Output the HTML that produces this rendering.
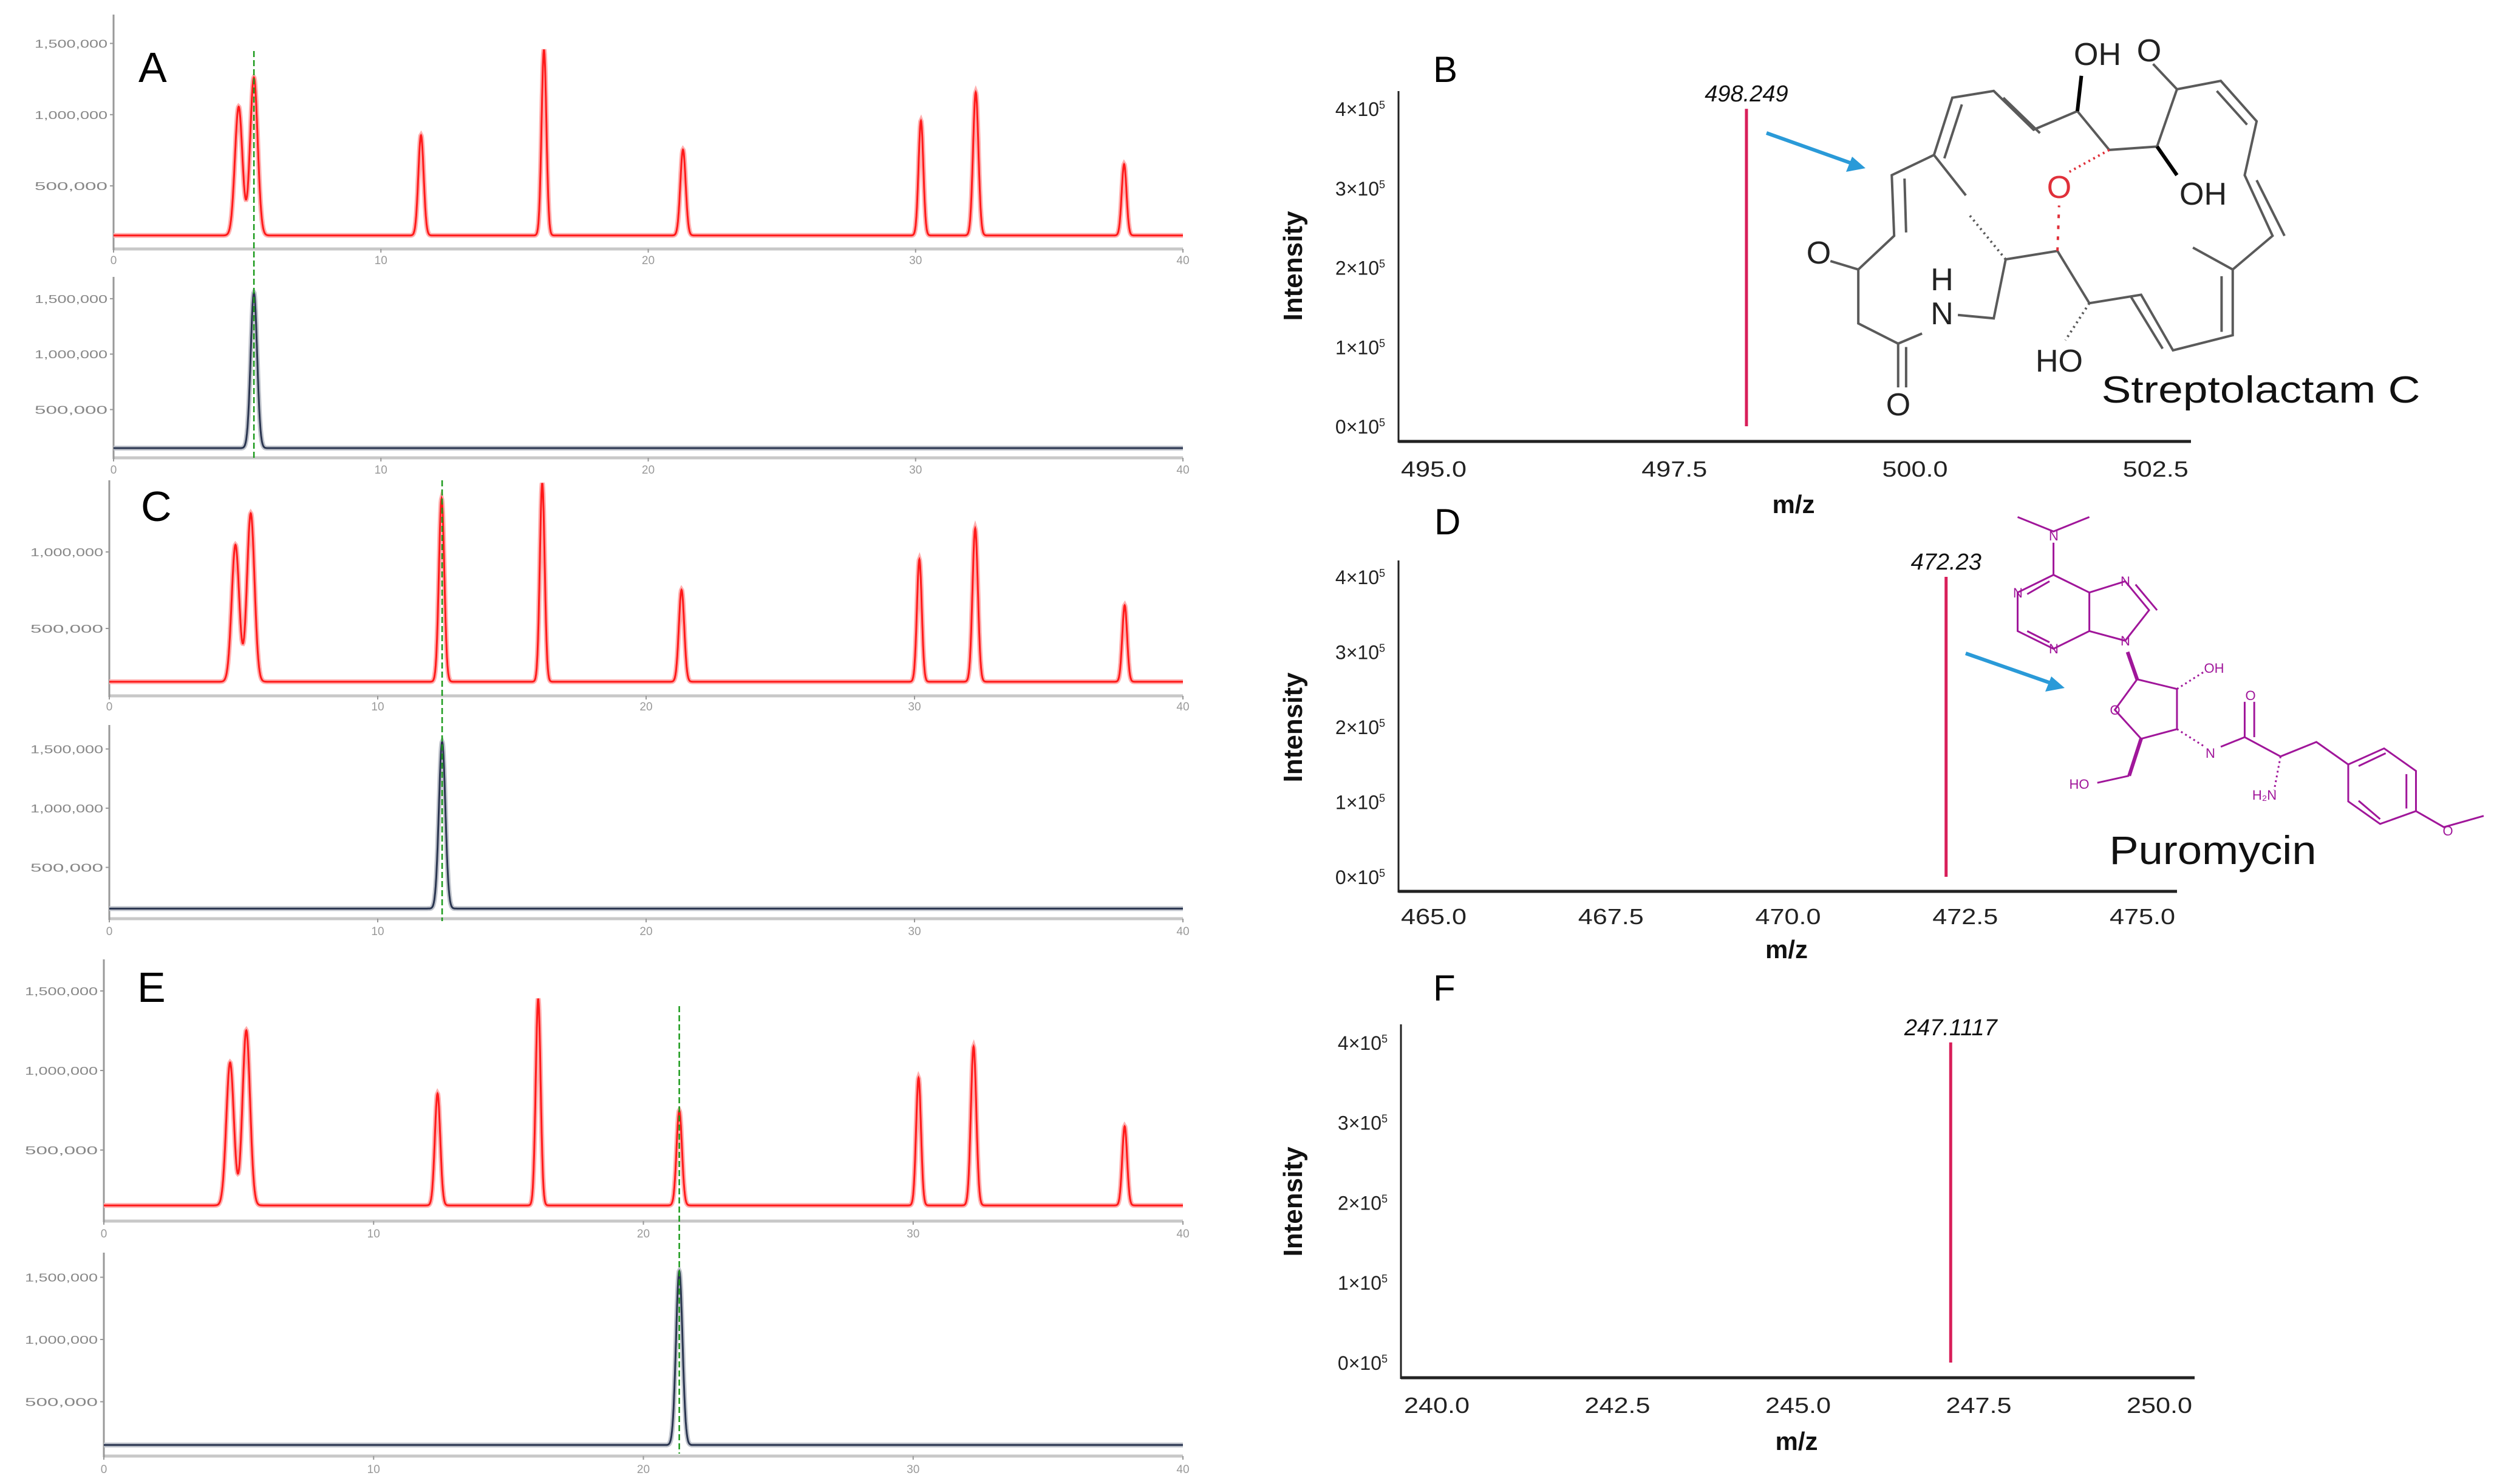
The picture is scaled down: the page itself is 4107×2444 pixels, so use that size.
<!DOCTYPE html>
<html><head><meta charset="utf-8">
<style>
html,body{margin:0;padding:0;background:#fff;}
svg{display:block;}
text{font-family:"Liberation Sans",sans-serif;}
</style></head>
<body>
<svg id="fig" width="4107" height="2444" viewBox="0 0 4107 2444" xmlns="http://www.w3.org/2000/svg">
<rect width="4107" height="2444" fill="#fff"/>
<g id="chroms"></g>
<g id="spectra"></g>

<text x="228" y="135" font-size="70" fill="#000">A</text>
<text x="232" y="858" font-size="70" fill="#000">C</text>
<text x="226" y="1650" font-size="70" fill="#000">E</text>
<text x="2360" y="135" font-size="60" fill="#000">B</text>
<text x="2362" y="880" font-size="60" fill="#000">D</text>
<text x="2360" y="1648" font-size="60" fill="#000">F</text>

<!-- Streptolactam C structure -->
<g>
<g transform="translate(2050,0) scale(1.3119,0.5548)" fill="none" stroke="#5a5a5a" stroke-width="4">
<polyline vector-effect="non-scaling-stroke" points="770,800 815,700 812,520 865,460 888,290 940,270 990,385 1045,330 1085,445 1145,435 1170,265 1225,240 1270,360 1255,520 1290,700 1240,800 1240,995 1165,1040 1125,875 1060,900 1020,745 955,770 940,945 895,935"/>
<polyline vector-effect="non-scaling-stroke" points="850,990 820,1020 770,960 770,800"/>
<line vector-effect="non-scaling-stroke" x1="770" y1="800" x2="735" y2="775"/>
<line vector-effect="non-scaling-stroke" x1="820" y1="1020" x2="820" y2="1150"/>
<line vector-effect="non-scaling-stroke" x1="830" y1="1030" x2="830" y2="1150"/>
<line vector-effect="non-scaling-stroke" x1="865" y1="460" x2="905" y2="580"/>
<line vector-effect="non-scaling-stroke" x1="1170" y1="265" x2="1140" y2="190"/>
<line vector-effect="non-scaling-stroke" x1="1240" y1="800" x2="1190" y2="735"/>
<line vector-effect="non-scaling-stroke" x1="828" y1="530" x2="830" y2="690"/>
<line vector-effect="non-scaling-stroke" x1="952" y1="290" x2="998" y2="395"/>
<line vector-effect="non-scaling-stroke" x1="1220" y1="270" x2="1258" y2="370"/>
<line vector-effect="non-scaling-stroke" x1="1270" y1="535" x2="1305" y2="700"/>
<line vector-effect="non-scaling-stroke" x1="1226" y1="820" x2="1226" y2="985"/>
<line vector-effect="non-scaling-stroke" x1="1112" y1="880" x2="1152" y2="1035"/>
<line vector-effect="non-scaling-stroke" x1="900" y1="310" x2="878" y2="470"/>
<line vector-effect="non-scaling-stroke" stroke-dasharray="3 6" x1="955" y1="770" x2="910" y2="640"/>
<line vector-effect="non-scaling-stroke" stroke-dasharray="3 6" x1="1060" y1="900" x2="1030" y2="1010"/>
<line vector-effect="non-scaling-stroke" stroke="#e0303a" stroke-dasharray="3 6" x1="1085" y1="445" x2="1035" y2="510"/>
<line vector-effect="non-scaling-stroke" stroke="#e0303a" stroke-dasharray="6 12" x1="1020" y1="745" x2="1022" y2="610"/>
<line vector-effect="non-scaling-stroke" stroke="#000" stroke-width="6" x1="1045" y1="330" x2="1050" y2="225"/>
<line vector-effect="non-scaling-stroke" stroke="#000" stroke-width="6" x1="1145" y1="435" x2="1170" y2="520"/>
</g>
<g font-size="52" fill="#222" text-anchor="middle">
<text x="3454" y="107">OH</text>
<text x="3539" y="101">O</text>
<text x="3628" y="337">OH</text>
<text x="3391" y="326" fill="#e0303a">O</text>
<text x="2995" y="434">O</text>
<text x="3198" y="478">H</text>
<text x="3198" y="534">N</text>
<text x="3391" y="612">HO</text>
<text x="3126" y="684">O</text>
</g>
<text x="3723" y="663" font-size="62" text-anchor="middle" textLength="525" lengthAdjust="spacingAndGlyphs" fill="#111">Streptolactam C</text>
</g>
<g stroke="#2a9ad8" stroke-width="6" fill="#2a9ad8">
<line x1="2909" y1="219" x2="3052" y2="270"/>
<polygon points="3072,277 3040,283 3050,258" stroke="none"/>
</g>

<!-- Puromycin structure -->
<g>
<g transform="translate(2050,780) scale(1.3119,0.5293)" fill="none" stroke="#a0169a" stroke-width="3">
<polyline vector-effect="non-scaling-stroke" points="970,135 1015,180 1060,135"/>
<line vector-effect="non-scaling-stroke" x1="1015" y1="215" x2="1015" y2="315"/>
<polygon vector-effect="non-scaling-stroke" points="1015,315 970,370 970,490 1015,545 1060,490 1060,370"/>
<polyline vector-effect="non-scaling-stroke" points="1060,370 1105,335 1135,425 1105,520 1060,490"/>
<line vector-effect="non-scaling-stroke" x1="982" y1="375" x2="1010" y2="335"/>
<line vector-effect="non-scaling-stroke" x1="982" y1="490" x2="1010" y2="525"/>
<line vector-effect="non-scaling-stroke" x1="1118" y1="345" x2="1145" y2="425"/>
<polygon vector-effect="non-scaling-stroke" points="1120,640 1170,670 1170,795 1125,825 1092,735"/>
<line vector-effect="non-scaling-stroke" stroke-width="6" x1="1108" y1="555" x2="1120" y2="640"/>
<line vector-effect="non-scaling-stroke" stroke-dasharray="3 5" x1="1170" y1="670" x2="1205" y2="615"/>
<line vector-effect="non-scaling-stroke" stroke-width="6" x1="1125" y1="825" x2="1110" y2="940"/>
<line vector-effect="non-scaling-stroke" x1="1110" y1="940" x2="1070" y2="962"/>
<line vector-effect="non-scaling-stroke" stroke-dasharray="3 5" x1="1170" y1="795" x2="1205" y2="850"/>
<polyline vector-effect="non-scaling-stroke" points="1225,850 1255,820 1300,880 1345,835 1385,905"/>
<line vector-effect="non-scaling-stroke" x1="1255" y1="820" x2="1255" y2="710"/>
<line vector-effect="non-scaling-stroke" x1="1267" y1="820" x2="1267" y2="710"/>
<line vector-effect="non-scaling-stroke" stroke-dasharray="3 5" x1="1300" y1="880" x2="1292" y2="985"/>
<polygon vector-effect="non-scaling-stroke" points="1385,905 1430,855 1470,925 1470,1050 1425,1090 1385,1020"/>
<line vector-effect="non-scaling-stroke" x1="1398" y1="910" x2="1432" y2="870"/>
<line vector-effect="non-scaling-stroke" x1="1458" y1="935" x2="1458" y2="1042"/>
<line vector-effect="non-scaling-stroke" x1="1398" y1="1018" x2="1425" y2="1075"/>
<polyline vector-effect="non-scaling-stroke" points="1470,1050 1505,1100 1555,1065"/>
</g>
<g font-size="22" fill="#a0169a" text-anchor="middle">
<text x="3382" y="890">N</text>
<text x="3323" y="984">N</text>
<text x="3382" y="1076">N</text>
<text x="3500" y="965">N</text>
<text x="3500" y="1063">N</text>
<text x="3646" y="1108">OH</text>
<text x="3483" y="1177">O</text>
<text x="3424" y="1299">HO</text>
<text x="3640" y="1248">N</text>
<text x="3706" y="1153">O</text>
<text x="3729" y="1317">H₂N</text>
<text x="4031" y="1376">O</text>
</g>
<text x="3644" y="1423" font-size="66" text-anchor="middle" textLength="341" lengthAdjust="spacingAndGlyphs" fill="#111">Puromycin</text>
</g>
<g stroke="#2a9ad8" stroke-width="6" fill="#2a9ad8">
<line x1="3237" y1="1076" x2="3380" y2="1126"/>
<polygon points="3400,1133 3368,1139 3378,1114" stroke="none"/>
</g>
</svg>

<script>
// ---------- Chromatogram data ----------
const peakTimesA = [4.68, 5.25, 11.5, 16.1, 21.3, 30.2, 32.25, 37.8];
const peakHeightsA = [1055000, 1261000, 855000, 1457000, 754000, 957000, 1157000, 652000];
const peakTimesC = [4.70, 5.27, 12.38, 16.13, 21.32, 30.18, 32.26, 37.83];
const peakHeightsC = [1046000, 1252000, 1349000, 1450000, 752000, 951000, 1153000, 651000];
const peakTimesE = [4.68, 5.28, 12.37, 16.1, 21.33, 30.2, 32.24, 37.84];
const peakHeightsE = [1050000, 1252000, 855000, 1452000, 748000, 954000, 1150000, 649000];
const peakWidths = [0.14, 0.14, 0.1, 0.09, 0.1, 0.09, 0.1, 0.09];
const baselineTIC = 152000;
const eicTimes = [5.25, 12.4, 21.33];
const eicHeights = [1555000, 1560000, 1550000];
const baselineEIC = 152000;
const eicWidth = 0.12;
const xTicksChrom = [0, 10, 20, 30, 40];
const yTicksChrom = [500000, 1000000, 1500000];
const yTickLabelsChrom = ["500,000", "1,000,000", "1,500,000"];

// ---------- Mass spectra data ----------
const specMz = [498.249, 472.23, 247.1117];
const specIntensity = [400000, 400000, 400000];
const specLabels = ["498.249", "472.23", "247.1117"];
const mzTicksB = [495.0, 497.5, 500.0, 502.5];
const mzTicksD = [465.0, 467.5, 470.0, 472.5, 475.0];
const mzTicksF = [240.0, 242.5, 245.0, 247.5, 250.0];
const intTicks = [0, 1, 2, 3, 4];

const NS = "http://www.w3.org/2000/svg";
function mk(tag, attrs, parent) {
  const e = document.createElementNS(NS, tag);
  for (const k in attrs) e.setAttribute(k, attrs[k]);
  parent.appendChild(e);
  return e;
}

const chromG = document.getElementById('chroms');
const chromPanels = [
  {id:'a-tic', x0:187, x1:1948, yZero:423.4, per:117.3, top:24, axisY:410, lblY:435, kind:'tic', times:peakTimesA, heights:peakHeightsA},
  {id:'a-eic', x0:187, x1:1948, yZero:765.8, per:91.3, top:456, axisY:754, lblY:780, kind:'eic', idx:0},
  {id:'c-tic', x0:180, x1:1948, yZero:1161, per:126, top:791, axisY:1146, lblY:1170, kind:'tic', times:peakTimesC, heights:peakHeightsC},
  {id:'c-eic', x0:180, x1:1948, yZero:1526, per:97.5, top:1194, axisY:1513, lblY:1540, kind:'eic', idx:1},
  {id:'e-tic', x0:171, x1:1948, yZero:2025, per:131, top:1580, axisY:2011, lblY:2038, kind:'tic', times:peakTimesE, heights:peakHeightsE},
  {id:'e-eic', x0:171, x1:1948, yZero:2411, per:102.5, top:2063, axisY:2398, lblY:2426, kind:'eic', idx:2}
];
const greenLines = [{x0:187,x1:1948,t:eicTimes[0],y0:84,y1:755},{x0:180,x1:1948,t:eicTimes[1],y0:791,y1:1517},{x0:171,x1:1948,t:eicTimes[2],y0:1657,y1:2394}];

chromPanels.forEach(p => {
  const g = mk('g', {}, chromG);
  
  
  const sx = t => p.x0 + (t / 40) * (p.x1 - p.x0);
  const sy = v => p.yZero - v / 500000 * p.per;
  const xa = mk('line', {x1:p.x0, y1:p.axisY, x2:p.x1, y2:p.axisY, stroke:'#c8c8c8', 'stroke-width':5}, g);
  
  
  const ya = mk('line', {x1:p.x0, y1:p.top, x2:p.x0, y2:p.axisY+2, stroke:'#999', 'stroke-width':3}, g);
  
  
  xTicksChrom.forEach(t => {
    mk('line', {x1:sx(t), y1:p.axisY, x2:sx(t), y2:p.axisY+6, stroke:'#999', 'stroke-width':2}, g);
    const tx = mk('text', {x:sx(t), y:p.lblY, 'font-size':19, fill:'#999', 'text-anchor':'middle'}, g);
    tx.textContent = String(t);
    
    
  });
  yTicksChrom.forEach((v, i) => {
    const y = sy(v);
    if (y < p.top + 5) return;
    mk('line', {x1:p.x0-6, y1:y, x2:p.x0, y2:y, stroke:'#999', 'stroke-width':2}, g);
    const tx = mk('text', {x:p.x0-130, y:y+7, 'font-size':18, fill:'#888', textLength:120, lengthAdjust:'spacingAndGlyphs'}, g);
    tx.textContent = yTickLabelsChrom[i];
    
    
  });
  let f;
  let color;
  if (p.kind === 'tic') {
    color = '#ff1a1a';
    f = t => {
      let v = baselineTIC;
      for (let i = 0; i < p.times.length; i++) {
        const s = peakWidths[i];
        v += (p.heights[i] - baselineTIC) * Math.exp(-Math.pow(t - p.times[i], 2) / (2 * s * s));
      }
      return v;
    };
  } else {
    color = '#2a3550';
    f = t => baselineEIC + (eicHeights[p.idx] - baselineEIC) * Math.exp(-Math.pow(t - eicTimes[p.idx], 2) / (2 * eicWidth * eicWidth));
  }
  let d = '';
  for (let t = 0; t <= 40.0001; t += 0.01) {
    d += (d ? 'L' : 'M') + sx(t).toFixed(1) + ',' + sy(f(t)).toFixed(1);
  }
  const halo = mk('path', {d:d, fill:'none', stroke: p.kind==='tic' ? '#ffb0b0' : '#c0c4cc', 'stroke-width':8}, g);
  
  
  const tr = mk('path', {d:d, fill:'none', stroke:color, 'stroke-width':3}, g);
  
  
});
greenLines.forEach(l => {
  const x = l.x0 + l.t / 40 * (l.x1 - l.x0);
  const gl = mk('line', {x1:x, y1:l.y0, x2:x, y2:l.y1, stroke:'#1a9a1a', 'stroke-width':2.5, 'stroke-dasharray':'10 5'}, chromG);
  
  
});

// ---------- Spectra ----------
const specG = document.getElementById('spectra');
const specPanels = [
  {id:'b', axX:2303, right:3608, top:150, axisY:727, yZero:702, per:130.7, mz0:495, mzPx:2361, ppu:158.5, ticks:mzTicksB, lblY:785, mzY:845, intY:438},
  {id:'d', axX:2303, right:3585, top:923, axisY:1468, yZero:1444, per:123.5, mz0:465, mzPx:2361, ppu:116.7, ticks:mzTicksD, lblY:1522, mzY:1578, intY:1198},
  {id:'f', axX:2307, right:3614, top:1687, axisY:2269, yZero:2244, per:131.8, mz0:240, mzPx:2366, ppu:119, ticks:mzTicksF, lblY:2327, mzY:2388, intY:1979}
];
specPanels.forEach((p, k) => {
  const g = mk('g', {}, specG);
  
  
  const sx = m => p.mzPx + (m - p.mz0) * p.ppu;
  const sy = v => p.yZero - v / 100000 * p.per;
  const xa = mk('line', {x1:p.axX, y1:p.axisY, x2:p.right, y2:p.axisY, stroke:'#222', 'stroke-width':5}, g);
  
  
  const ya = mk('line', {x1:p.axX, y1:p.top, x2:p.axX, y2:p.axisY+2, stroke:'#222', 'stroke-width':3}, g);
  
  
  p.ticks.forEach(m => {
    const tx = mk('text', {x:sx(m), y:p.lblY, 'font-size':36, fill:'#222', 'text-anchor':'middle', textLength:108, lengthAdjust:'spacingAndGlyphs'}, g);
    tx.textContent = m.toFixed(1);
    
    
  });
  intTicks.forEach(v => {
    const tx = mk('text', {x:p.axX-22, y:sy(v*100000)+12, 'font-size':32, fill:'#222', 'text-anchor':'end'}, g);
    tx.textContent = v + '×10';
    const sup = mk('tspan', {dy:-12, 'font-size':18}, tx);
    sup.textContent = '5';
    
    
  });
  const yl = mk('text', {x:0, y:0, 'font-size':44, 'font-weight':'bold', fill:'#111', 'text-anchor':'middle', transform:'translate(2144,' + p.intY + ') rotate(-90)'}, g);
  yl.textContent = 'Intensity';
  
  
  const xl = mk('text', {x:(p.axX + p.right)/2 - 2, y:p.mzY, 'font-size':42, 'font-weight':'bold', fill:'#111', 'text-anchor':'middle'}, g);
  xl.textContent = 'm/z';
  
  
  const x = sx(specMz[k]);
  const pk = mk('line', {x1:x, y1:sy(specIntensity[k]), x2:x, y2:sy(0), stroke:'#d81f5a', 'stroke-width':5}, g);
  
  
  const pl = mk('text', {x:x, y:sy(specIntensity[k]) - 12, 'font-size':38, fill:'#111', 'text-anchor':'middle', 'font-style':'italic'}, g);
  pl.textContent = specLabels[k];
  
  
});
</script>
</body></html>
